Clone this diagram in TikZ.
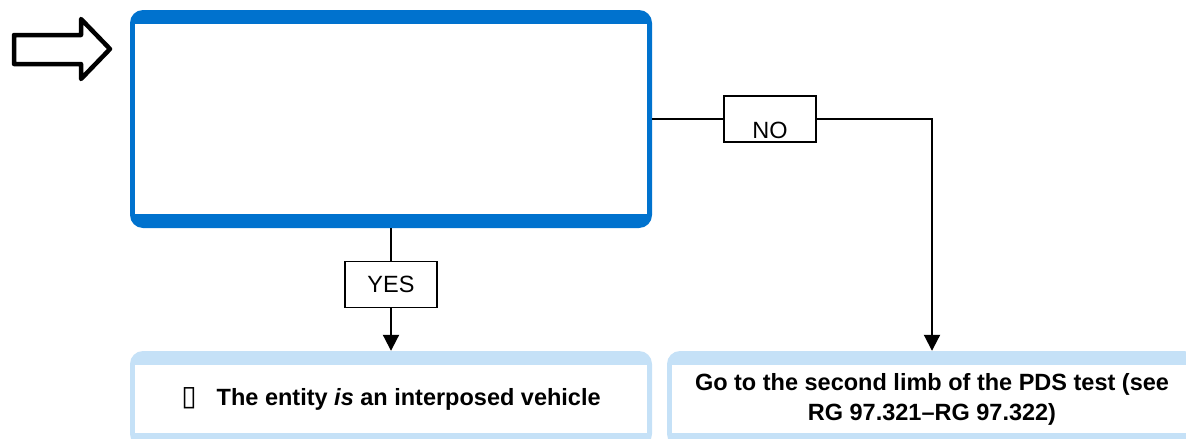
\documentclass[tikz,border=0pt]{standalone}
\usepackage{fontspec}
\setmainfont{Liberation Sans}
\newfontfamily\symfont{DejaVu Sans}
\usetikzlibrary{arrows.meta}

\definecolor{qblue}{RGB}{0,114,206}
\definecolor{qlight}{RGB}{197,225,247}

\tikzset{
  panel/.style={rounded corners=13pt, inner sep=0pt,
    path picture={\fill[white, sharp corners] ([shift={(5,14)}]path picture bounding box.north west)
      rectangle ([shift={(-5,-14)}]path picture bounding box.south east);}},
  tag/.style={draw, line width=1.5pt, fill=white, minimum width=92pt,
    minimum height=46pt, inner sep=0pt},
  link/.style={line width=2pt},
  flow/.style={line width=2pt, -{Triangle[width=16pt,length=16pt]}}
}

\begin{document}
\begin{tikzpicture}[x=1pt, y=-1pt, font=\fontsize{23.5}{30}\selectfont]
\useasboundingbox (0,0) rectangle (1186,439);
% entry arrow
\draw [line width=4.5pt, line join=round] (14,35) -- (81,35) -- (81,19) -- (110,49)
  -- (81,79) -- (81,64) -- (14,64) -- cycle;
% question box
\node [panel, fill=qblue, minimum width=522pt, minimum height=218pt] (q) at (391,119) {};
% outcomes
\node [panel, fill=qlight, minimum width=522pt, minimum height=96pt, font=\fontsize{23.5}{30}\selectfont\bfseries]
  (yesbox) at (391,399) {{\symfont\mdseries\fontsize{28}{30}\selectfont ▯}\hspace{20pt}The entity \textit{is} an interposed vehicle};
\node [panel, fill=qlight, minimum width=530pt, minimum height=96pt, align=center, font=\fontsize{23.5}{30}\selectfont\bfseries]
  (nobox) at (932,399) {Go to the second limb of the PDS test (see\\RG 97.321–RG 97.322)};
% answers
\node [tag] (yes) at (391,284.5) {YES};
\node [tag, text height=39pt, text depth=0pt] (no) at (770,119) {NO};
\draw [link] (q.south) -- (yes);
\draw [flow] (yes) -- (yesbox);
\draw [link] (q.east) -- (no);
\draw [flow] (no) -| (nobox);
\end{tikzpicture}
\end{document}
